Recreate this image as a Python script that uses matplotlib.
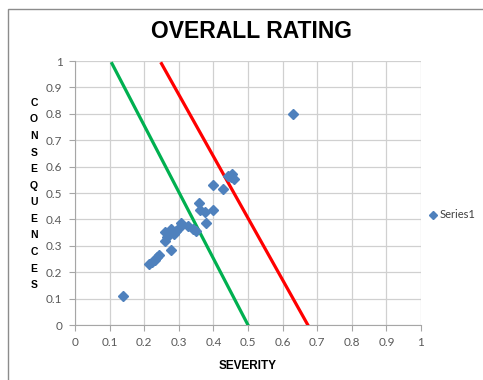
import matplotlib
matplotlib.use("Agg")
import matplotlib.pyplot as plt
from matplotlib.patches import Rectangle

severity = [0.14, 0.215, 0.223, 0.23, 0.237, 0.242, 0.278, 0.259, 0.26, 0.278, 0.292,
            0.300, 0.307, 0.326, 0.34, 0.35, 0.379, 0.357, 0.36, 0.377, 0.398,
            0.398, 0.427, 0.443, 0.455, 0.46, 0.45, 0.629, 0.265, 0.285]
consequences = [0.11, 0.231, 0.237, 0.248, 0.256, 0.265, 0.285, 0.319, 0.352, 0.362, 0.356,
                0.369, 0.385, 0.375, 0.363, 0.356, 0.385, 0.463, 0.435, 0.428, 0.435,
                0.529, 0.516, 0.566, 0.572, 0.553, 0.56, 0.80, 0.335, 0.345]

green_x = [0.107, 0.50]
green_y = [0.99, 0.0]
red_x = [0.25, 0.673]
red_y = [0.99, 0.0]

ticks = [0, 0.1, 0.2, 0.3, 0.4, 0.5, 0.6, 0.7, 0.8, 0.9, 1]
tick_labels = ["0", "0.1", "0.2", "0.3", "0.4", "0.5", "0.6", "0.7", "0.8", "0.9", "1"]

fig = plt.figure(figsize=(4.83, 3.80), dpi=100)
fig.patches.append(Rectangle((8/483, -0.1), 1.2, 1 - 9/380 + 0.1, transform=fig.transFigure,
                             fill=False, edgecolor="#8C8C8C", linewidth=1.0))
ax = fig.add_axes([75/483, 55/380, 346/483, 264/380])

ax.plot(green_x, green_y, color="#00B050", linewidth=2.3, zorder=3)
ax.plot(red_x, red_y, color="#FF0000", linewidth=2.3, zorder=3)
ax.plot(severity, consequences, linestyle="none", marker="D", markersize=5.5,
        color="#4F81BD", label="Series1", zorder=4)

ax.set_xlim(0, 1)
ax.set_ylim(0, 1)
ax.set_xticks(ticks)
ax.set_xticklabels(tick_labels)
ax.set_yticks(ticks)
ax.set_yticklabels(tick_labels)
ax.grid(True, color="#D0D0D0", linewidth=0.9)
ax.set_axisbelow(True)
for s in ["top", "right"]:
    ax.spines[s].set_visible(False)
for s in ["left", "bottom"]:
    ax.spines[s].set_color("#A6A6A6")
ax.tick_params(axis="both", colors="#A6A6A6", labelcolor="#595959", length=4,
               labelsize=8.5, pad=5)
for lab in ax.get_xticklabels() + ax.get_yticklabels():
    lab.set_family("Lato")

ax.set_xlabel("SEVERITY", fontsize=8.5, fontweight="bold", family="Liberation Sans", labelpad=8)
fig.text(34/483, 1 - 194/380, "\n".join("CONSEQUENCES"), ha="center", va="center",
         fontsize=7.5, fontweight="bold", family="Liberation Sans", linespacing=1.82)
fig.text(251/483, 1 - 32/380, "OVERALL RATING", ha="center", va="center",
         fontsize=16.5, fontweight="bold", family="Liberation Sans")

leg = fig.legend(loc="center left", bbox_to_anchor=(430/483, 1 - 215/380), frameon=False,
                 handletextpad=0.3, handlelength=0.6, borderpad=0, borderaxespad=0,
                 markerscale=0.75, prop={"family": "Lato", "size": 8})
for t in leg.get_texts():
    t.set_color("#404040")

fig.savefig("out.png", dpi=100)
